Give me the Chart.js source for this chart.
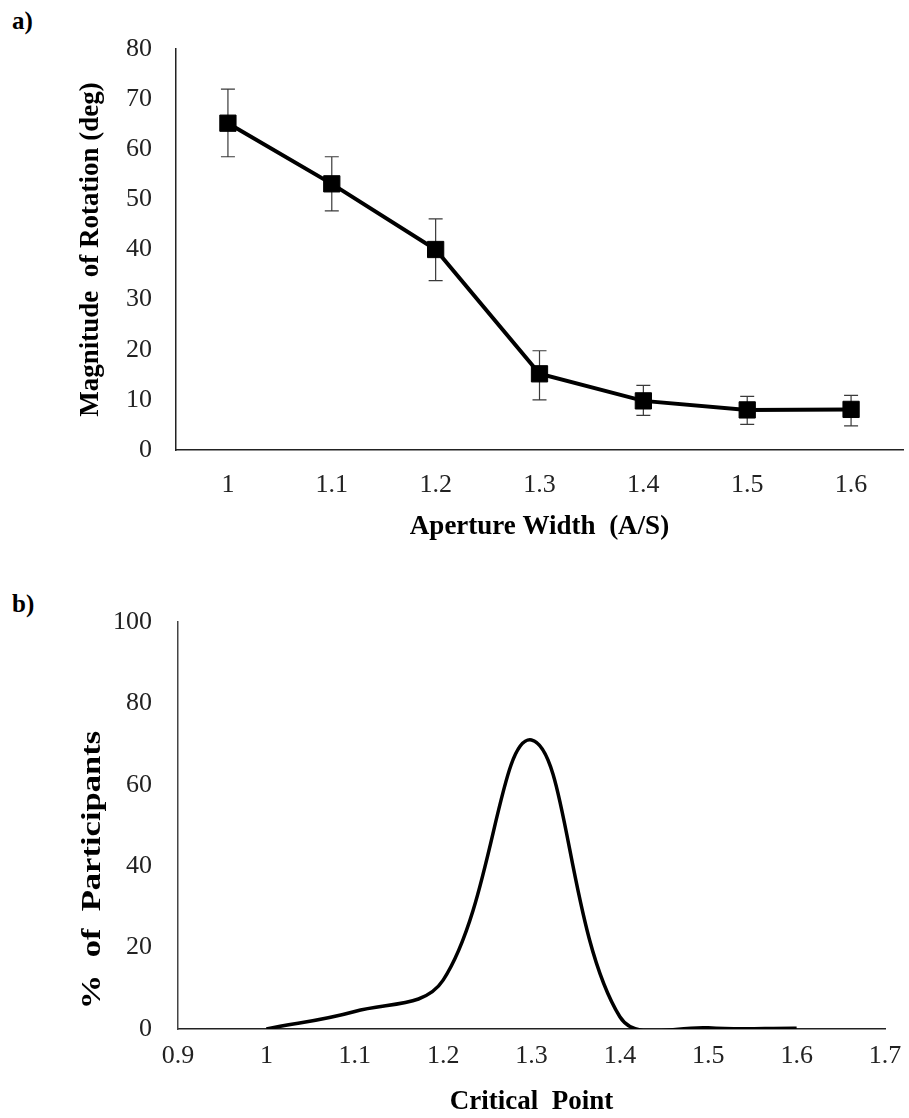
<!DOCTYPE html>
<html>
<head>
<meta charset="utf-8">
<script src="https://cdn.jsdelivr.net/npm/chart.js@4.4.1/dist/chart.umd.min.js"></script>
<style>
  html, body { margin: 0; padding: 0; background: #fff; }
  body { width: 909px; height: 1118px; position: relative; overflow: hidden; font-family: 'Liberation Serif', serif; }
  .panel { position: absolute; left: 0; }
  .tag { position: absolute; font-weight: bold; font-size: 25px; color: #000; font-family: 'Liberation Serif', serif; }
</style>
</head>
<body>
<div class="tag" style="left:12px; top:7px;">a)</div>
<div class="tag" style="left:12px; top:590px;">b)</div>
<div class="panel" style="top:0; width:909px; height:560px;"><canvas id="chartA"></canvas></div>
<div class="panel" style="top:575px; width:909px; height:543px;"><canvas id="chartB"></canvas></div>
<script>
// ---- Panel a data ----
const apertureLabels = ['1', '1.1', '1.2', '1.3', '1.4', '1.5', '1.6'];
const rotationMean = [65.2, 53.1, 40.0, 15.2, 9.8, 8.0, 8.1];
const rotationErrLow = [58.5, 47.7, 33.8, 10.0, 6.9, 5.1, 4.8];
const rotationErrHigh = [72.0, 58.5, 46.1, 19.8, 12.9, 10.7, 10.9];
const rotationTicks = [0, 10, 20, 30, 40, 50, 60, 70, 80];

// ---- Panel b data ----
const criticalPoint = [1.0, 1.1, 1.2, 1.3, 1.4, 1.5, 1.6];
const participantsPct = [0, 4.3, 12, 71, 3, 0.3, 0.2];
const criticalTicks = [0.9, 1.0, 1.1, 1.2, 1.3, 1.4, 1.5, 1.6, 1.7];
const participantTicks = [0, 20, 40, 60, 80, 100];

Chart.defaults.font.family = "'Liberation Serif', 'Times New Roman', serif";
Chart.defaults.color = '#222';
Chart.defaults.animation = false;

const tickFont = { size: 26 };
const titleFont = { size: 27, weight: 'bold' };

const errorBars = {
  id: 'errorBars',
  beforeDatasetsDraw(chart) {
    const { ctx, scales: { x, y } } = chart;
    ctx.save();
    ctx.strokeStyle = '#3a3a3a';
    ctx.lineWidth = 1.2;
    rotationMean.forEach((m, i) => {
      const px = x.getPixelForValue(i);
      const yl = y.getPixelForValue(rotationErrLow[i]);
      const yh = y.getPixelForValue(rotationErrHigh[i]);
      ctx.beginPath();
      ctx.moveTo(px, yl); ctx.lineTo(px, yh);
      ctx.moveTo(px - 7, yl); ctx.lineTo(px + 7, yl);
      ctx.moveTo(px - 7, yh); ctx.lineTo(px + 7, yh);
      ctx.stroke();
    });
    ctx.restore();
  }
};

new Chart(document.getElementById('chartA'), {
  type: 'line',
  data: {
    labels: apertureLabels,
    datasets: [{
      data: rotationMean,
      borderColor: '#000',
      borderWidth: 4,
      backgroundColor: '#000',
      pointStyle: 'rect',
      pointRadius: 11.5,
      pointBorderWidth: 1,
      pointBorderColor: '#000',
      pointBackgroundColor: '#000',
      tension: 0,
      clip: false
    }]
  },
  options: {
    responsive: true,
    maintainAspectRatio: false,
    layout: { autoPadding: false, padding: { top: 49, right: 6, left: 0, bottom: 0 } },
    plugins: { legend: { display: false }, tooltip: { enabled: false } },
    scales: {
      x: {
        type: 'category',
        offset: true,
        grid: { display: false, drawTicks: false },
        border: { display: true, color: '#222', width: 1.5 },
        ticks: { font: tickFont, padding: 20, color: '#222' },
        title: { display: true, text: 'Aperture Width  (A/S)', font: titleFont, color: '#000', padding: { top: 0, bottom: 17 } },
        afterFit: s => { s.height = 110; s.paddingLeft = 0; s.paddingRight = 0; }
      },
      y: {
        min: 0, max: 80,
        afterBuildTicks: s => { s.ticks = rotationTicks.map(v => ({ value: v })); },
        grid: { display: false, drawTicks: false },
        border: { display: true, color: '#222', width: 1.5 },
        ticks: { font: tickFont, padding: 24, color: '#222' },
        title: { display: true, text: 'Magnitude  of Rotation (deg)', font: titleFont, color: '#000', padding: { top: 75, bottom: 0 } },
        afterFit: s => { s.width = 176; }
      }
    }
  },
  plugins: [errorBars]
});

const yTitleB = {
  id: 'yTitleB',
  afterDraw(chart) {
    const { ctx } = chart;
    ctx.save();
    ctx.font = "bold 27px 'Liberation Serif', 'Times New Roman', serif";
    ctx.fillStyle = '#000';
    ctx.textAlign = 'center';
    ctx.textBaseline = 'middle';
    ctx.translate(93, 295);
    ctx.rotate(-Math.PI / 2);
    ctx.scale(1.28, 1);
    ctx.fillText('%  of  Participants', 0, 0);
    ctx.restore();
  }
};

new Chart(document.getElementById('chartB'), {
  type: 'line',
  data: {
    datasets: [{
      data: criticalPoint.map((x, i) => ({ x, y: participantsPct[i] })),
      borderColor: '#000',
      borderWidth: 3.5,
      pointRadius: 0,
      fill: false,
      tension: 0.38,
      capBezierPoints: false
    }]
  },
  options: {
    responsive: true,
    maintainAspectRatio: false,
    layout: { autoPadding: false, padding: { top: 47, right: 24, left: 0, bottom: 0 } },
    plugins: { legend: { display: false }, tooltip: { enabled: false } },
    scales: {
      x: {
        type: 'linear',
        min: 0.9, max: 1.7,
        afterBuildTicks: s => { s.ticks = criticalTicks.map(v => ({ value: v })); },
        grid: { display: false, drawTicks: false },
        border: { display: true, color: '#222', width: 1.5 },
        ticks: { font: tickFont, padding: 12, color: '#222', callback: v => String(Number(v.toFixed(1))) },
        title: { display: true, text: 'Critical  Point', font: titleFont, color: '#000', padding: { top: 0, bottom: 0 } },
        afterFit: s => { s.height = 89; s.paddingLeft = 0; s.paddingRight = 0; }
      },
      y: {
        min: 0, max: 100,
        afterBuildTicks: s => { s.ticks = participantTicks.map(v => ({ value: v })); },
        grid: { display: false, drawTicks: false },
        border: { display: true, color: '#444', width: 1.5 },
        ticks: { font: tickFont, padding: 26, color: '#222' },
        title: { display: false },
        afterFit: s => { s.width = 178; }
      }
    }
  },
  plugins: [yTitleB]
});
</script>
</body>
</html>
